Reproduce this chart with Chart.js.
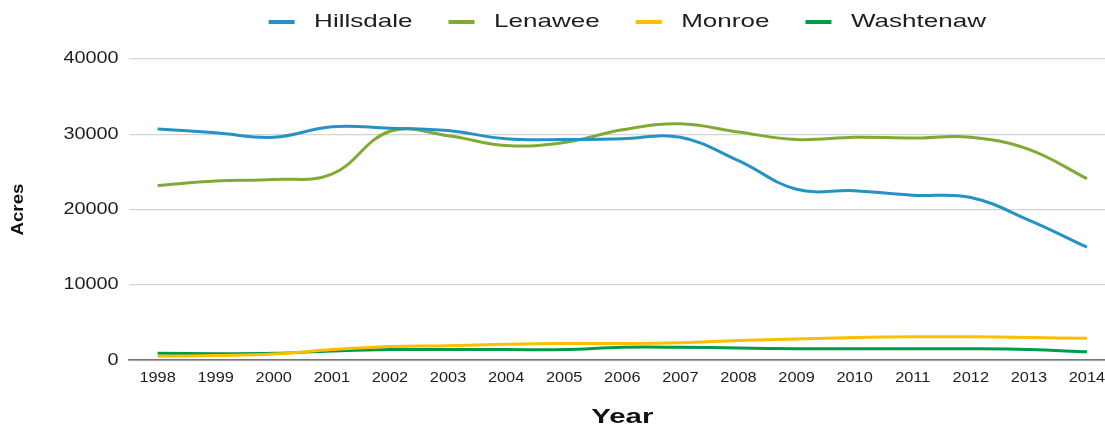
<!DOCTYPE html>
<html>
<head>
<meta charset="utf-8">
<script src="https://cdn.jsdelivr.net/npm/chart.js@4"></script>
<style>
  html, body { margin: 0; padding: 0; background: #fff; overflow: hidden; }
  #wrap { width: 1116px; height: 424px; }
</style>
</head>
<body>
<div id="wrap"><canvas id="c" width="1116" height="424"></canvas></div>
<script>
const years = ["1998","1999","2000","2001","2002","2003","2004","2005","2006","2007","2008","2009","2010","2011","2012","2013","2014"];
const hillsdale = [30700, 30200, 29600, 31000, 30800, 30500, 29400, 29300, 29400, 29600, 26500, 22700, 22500, 21900, 21600, 18600, 15000];
const lenawee   = [23200, 23800, 24000, 24700, 30400, 29800, 28500, 28900, 30600, 31400, 30300, 29300, 29600, 29500, 29600, 28000, 24100];
const monroe    = [500, 600, 800, 1400, 1800, 1900, 2100, 2200, 2200, 2300, 2600, 2800, 3000, 3100, 3100, 3000, 2900];
const washtenaw = [900, 850, 900, 1200, 1400, 1400, 1400, 1400, 1700, 1700, 1600, 1500, 1500, 1500, 1500, 1400, 1100];
const seriesNames = ["Hillsdale", "Lenawee", "Monroe", "Washtenaw"];
const seriesColors = ["#2592c4", "#80aa35", "#fcbf00", "#009b49"];
const yTicks = [0, 10000, 20000, 30000, 40000];

const FONT = "'Liberation Sans', Arial, sans-serif";
// horizontal stretch of the reference lettering, keyed by font pixel size
const textStretch = { 19: 1.37, 15: 1.09, 16: 1.24, 21: 1.4, 17: 1.1 };

const canvas = document.getElementById('c');
const ctx = canvas.getContext('2d');
(function stretchText(c) {
  const sxFor = (font) => { const m = /(\d+(?:\.\d+)?)px/.exec(font); return m ? (textStretch[Math.round(+m[1])] || 1) : 1; };
  const fill = c.fillText.bind(c);
  const measure = c.measureText.bind(c);
  c.fillText = function (t, x, y, mw) {
    const sx = sxFor(c.font);
    c.save(); c.translate(x, y); c.scale(sx, 1);
    if (mw === undefined || mw === null) fill(t, 0, 0); else fill(t, 0, 0, mw / sx);
    c.restore();
  };
  c.measureText = function (t) {
    const m = measure(t); const sx = sxFor(c.font);
    return { width: m.width * sx, actualBoundingBoxAscent: m.actualBoundingBoxAscent, actualBoundingBoxDescent: m.actualBoundingBoxDescent,
             actualBoundingBoxLeft: m.actualBoundingBoxLeft * sx, actualBoundingBoxRight: m.actualBoundingBoxRight * sx };
  };
})(ctx);

const LEG_FONT = 19, LEG_LEAD = 10, LEG_LINE = 26, LEG_W = 46;
function legendSwatch(color) {
  const cv = document.createElement('canvas');
  cv.width = LEG_W; cv.height = 4;
  const g = cv.getContext('2d');
  g.fillStyle = color;
  g.fillRect(LEG_LEAD, 0, LEG_LINE, 4);
  return cv;
}

const mk = (i, data) => ({
  label: seriesNames[i], data,
  borderColor: seriesColors[i], backgroundColor: seriesColors[i],
  borderWidth: 3, pointRadius: 0, pointHoverRadius: 0, tension: 0.4, fill: false,
  pointStyle: legendSwatch(seriesColors[i])
});

const legendHeight = {
  id: 'legendHeight',
  beforeInit(chart) {
    const lg = chart.legend;
    if (!lg) return;
    const f = lg.fit;
    lg.fit = function () { f.call(this); this.height = 72.5; };
  }
};

new Chart(ctx, {
  type: 'line',
  data: {
    labels: years,
    datasets: [mk(0, hillsdale), mk(1, lenawee), mk(2, monroe), mk(3, washtenaw)]
  },
  plugins: [legendHeight],
  options: {
    responsive: false,
    animation: false,
    layout: { padding: { left: 0, right: 0, top: -13.5, bottom: -3 } },
    plugins: {
      legend: {
        position: 'top',
        fullSize: false,
        labels: {
          font: { family: FONT, size: LEG_FONT },
          color: '#1e1e1e',
          usePointStyle: true,
          pointStyleWidth: LEG_W,
          padding: 26
        }
      },
      tooltip: { enabled: false }
    },
    scales: {
      x: {
        offset: true,
        grid: { display: false, drawTicks: false },
        border: { display: true, color: '#777', width: 1.5 },
        ticks: { font: { family: FONT, size: 15 }, color: '#1e1e1e', padding: 9, maxRotation: 0, autoSkip: false },
        title: { display: true, text: 'Year', font: { family: FONT, size: 21, weight: 'bold', lineHeight: 0.9 }, color: '#111', padding: { top: 12, bottom: 0 } }
      },
      y: {
        min: 0, max: 40000,
        afterBuildTicks: (s) => { s.ticks = yTicks.map(v => ({ value: v })); },
        grid: { color: '#d4d4d4', lineWidth: 1.2, drawTicks: false },
        border: { display: false },
        ticks: { font: { family: FONT, size: 16 }, color: '#1e1e1e', padding: 10, callback: (v) => String(v) },
        title: { display: true, text: 'Acres', font: { family: FONT, size: 17, weight: 'bold' }, color: '#111', padding: { top: 8, bottom: 25 } }
      }
    }
  }
});
</script>
</body>
</html>
